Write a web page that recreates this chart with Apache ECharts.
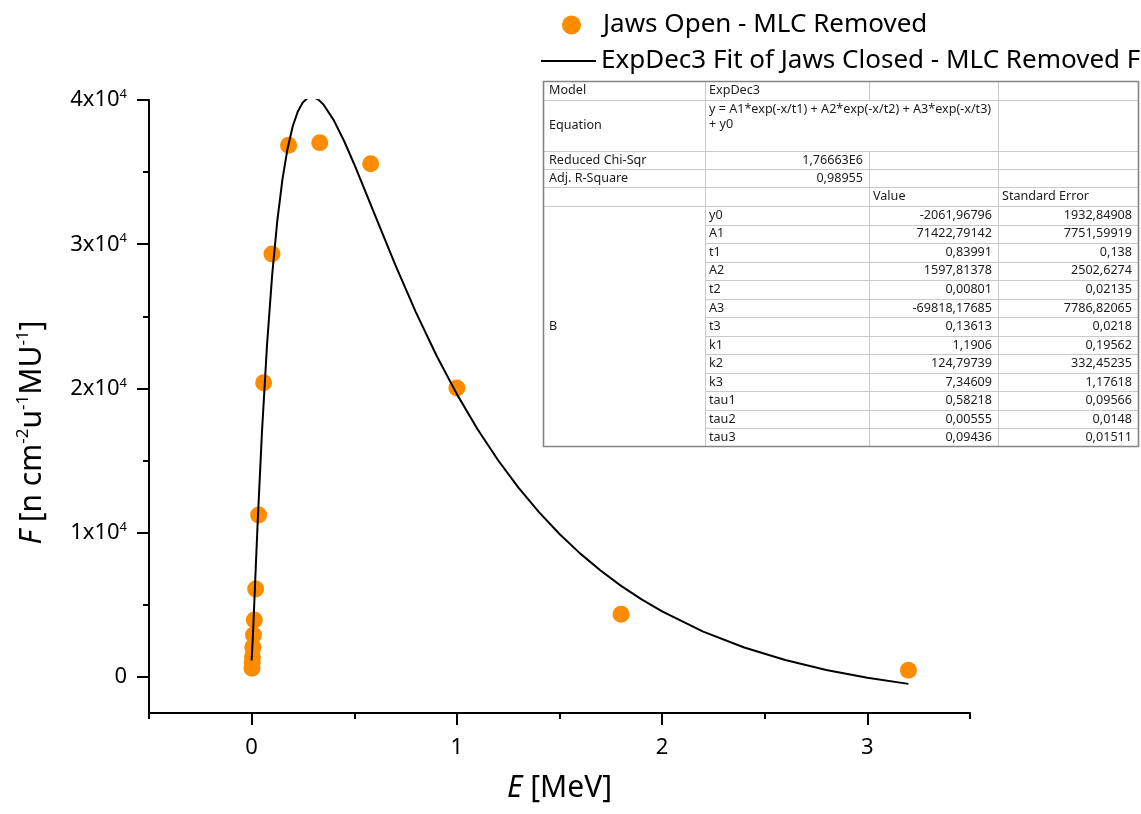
<!DOCTYPE html>
<html>
<head>
<meta charset="utf-8">
<title>ExpDec3 fit – neutron fluence vs energy</title>
<script src="https://cdn.jsdelivr.net/npm/echarts@6/dist/echarts.min.js"></script>
<style>
  html, body { margin: 0; padding: 0; background: #fff; }
  #chart { width: 1141px; height: 814px; }
</style>
</head>
<body>
<div id="chart"></div>
<script>
// Measured points: energy E [MeV] and fluence F
const energy  = [0.002, 0.003, 0.004, 0.006, 0.009, 0.013, 0.0195, 0.034, 0.0585, 0.099, 0.18, 0.332, 0.58, 1.0, 1.8, 3.2];
const fluence = [600, 1000, 1400, 2060, 2900, 3940, 6090, 11230, 20400, 29330, 36870, 37040, 35580, 20030, 4350, 470];

// ExpDec3 fitted curve, sampled
const fitE = [0, 0.005, 0.01, 0.02, 0.03, 0.05, 0.075, 0.1, 0.125, 0.15, 0.175, 0.2, 0.225, 0.25, 0.275,
              0.3, 0.325, 0.35, 0.4, 0.45, 0.5, 0.6, 0.7, 0.8, 0.9, 1.0, 1.1, 1.2, 1.3, 1.4, 1.5, 1.6,
              1.7, 1.8, 1.9, 2.0, 2.2, 2.4, 2.6, 2.8, 3.0, 3.2];
const fitF = [1140, 2493, 4101, 7534, 10884, 16880, 23017, 27853, 31612, 34484, 36623, 38161, 39206, 39847, 40158,
              40202, 40030, 39683, 38603, 37176, 35547, 32049, 28568, 25296, 22305, 19608, 17194, 15042, 13126, 11423, 9911, 8567,
              7375, 6315, 5375, 4540, 3141, 2039, 1170, 485, -55, -480];

// Axis ticks
const xMajorTicks = [0, 1, 2, 3];
const xMinorTicks = [-0.5, 0.5, 1.5, 2.5, 3.5];
const yMajorTicks = [0, 10000, 20000, 30000, 40000];
const yMinorTicks = [5000, 15000, 25000, 35000];
const yTickMantissa = ['0', '1x10', '2x10', '3x10', '4x10'];
const yTickExponent = '4';

// Series names
const pointsName = 'Jaws Open - MLC Removed';
const fitName = 'ExpDec3 Fit of Jaws Closed - MLC Removed F';

// Fit report
const reportHead = [
  ['Model', 'ExpDec3'],
  ['Equation', 'y = A1*exp(-x/t1) + A2*exp(-x/t2) + A3*exp(-x/t3)\n+ y0'],
  ['Reduced Chi-Sqr', '1,76663E6'],
  ['Adj. R-Square', '0,98955']
];
const reportColumns = ['Value', 'Standard Error'];
const reportGroup = 'B';
const paramNames  = ['y0', 'A1', 't1', 'A2', 't2', 'A3', 't3', 'k1', 'k2', 'k3', 'tau1', 'tau2', 'tau3'];
const paramValues = ['-2061,96796', '71422,79142', '0,83991', '1597,81378', '0,00801', '-69818,17685', '0,13613',
                     '1,1906', '124,79739', '7,34609', '0,58218', '0,00555', '0,09436'];
const paramErrors = ['1932,84908', '7751,59919', '0,138', '2502,6274', '0,02135', '7786,82065', '0,0218',
                     '0,19562', '332,45235', '1,17618', '0,09566', '0,0148', '0,01511'];

const FONT = '"Noto Sans", "Open Sans", sans-serif';

// ---- fit report table, built as graphic elements ----
function buildReport() {
  const L = 543, R = 1139, T = 81, B = 447;
  const c1 = 705, c2 = 869, c3 = 998;
  const headBottoms = [100, 151, 169, 187, 206];
  const rowH = (B - 206) / paramNames.length;
  const els = [];
  const thin = { stroke: '#c9c9c9', lineWidth: 1 };
  const hl = (x1, x2, y) => els.push({ type: 'line', shape: { x1, y1: y + 0.5, x2, y2: y + 0.5 }, style: thin, silent: true });
  const vl = (x, y1, y2) => els.push({ type: 'line', shape: { x1: x + 0.5, y1, x2: x + 0.5, y2 }, style: thin, silent: true });
  const txt = (text, x, y, align, va) => els.push({
    type: 'text', silent: true,
    style: { text, x, y, align: align || 'left', verticalAlign: va || 'middle',
             fontSize: 12.6, fontFamily: FONT, fill: '#1c1c1c', lineHeight: 15 }
  });

  els.push({ type: 'rect', shape: { x: L, y: T, width: R - L, height: B - T }, style: { fill: '#fff', stroke: 'none' }, silent: true });

  headBottoms.forEach(y => hl(L, R, y));
  for (let i = 1; i < paramNames.length; i++) hl(c1, R, Math.round(206 + i * rowH));
  vl(c1, T, B);
  vl(c2, T, headBottoms[0]);
  vl(c2, headBottoms[1], B);
  vl(c3, T, B);

  // outer frame
  els.push({ type: 'rect', shape: { x: L + 0.5, y: T + 0.5, width: R - L - 1, height: B - T - 1 },
             style: { fill: 'none', stroke: '#858585', lineWidth: 1.6 }, silent: true });

  // header rows
  const tops = [T].concat(headBottoms);
  txt(reportHead[0][0], L + 6, (tops[0] + tops[1]) / 2);
  txt(reportHead[0][1], c1 + 4, (tops[0] + tops[1]) / 2);
  txt(reportHead[1][0], L + 6, (tops[1] + tops[2]) / 2);
  txt(reportHead[1][1], c1 + 4, tops[1] + 2, 'left', 'top');
  txt(reportHead[2][0], L + 6, (tops[2] + tops[3]) / 2);
  txt(reportHead[2][1], c2 - 6, (tops[2] + tops[3]) / 2, 'right');
  txt(reportHead[3][0], L + 6, (tops[3] + tops[4]) / 2);
  txt(reportHead[3][1], c2 - 6, (tops[3] + tops[4]) / 2, 'right');
  txt(reportColumns[0], c2 + 4, (tops[4] + tops[5]) / 2);
  txt(reportColumns[1], c3 + 4, (tops[4] + tops[5]) / 2);

  // parameter block
  txt(reportGroup, L + 6, (206 + B) / 2);
  paramNames.forEach((n, i) => {
    const yc = 206 + (i + 0.5) * rowH;
    txt(n, c1 + 4, yc);
    txt(paramValues[i], c3 - 6, yc, 'right');
    txt(paramErrors[i], R - 7, yc, 'right');
  });
  return els;
}

const chart = echarts.init(document.getElementById('chart'), null, { renderer: 'canvas' });

const axisBlack = { lineStyle: { color: '#000', width: 2 } };
const tickLabelRich = {
  m: { fontSize: 22, fontFamily: FONT, color: '#000', lineHeight: 24 },
  s: { fontSize: 13, fontFamily: FONT, color: '#000', lineHeight: 14, verticalAlign: 'top' }
};

const option = {
  backgroundColor: '#fff',
  animation: false,
  textStyle: { fontFamily: FONT },
  grid: { left: 149, top: 100, right: 1141 - 970, bottom: 814 - 713, containLabel: false },
  legend: [
    {
      data: [{ name: pointsName, icon: 'circle' }],
      left: 562, top: 12, padding: 0,
      itemWidth: 19, itemHeight: 19,
      selectedMode: false,
      textStyle: { fontSize: 26, fontFamily: FONT, color: '#000', padding: [0, 0, 0, 17] }
    },
    {
      data: [{ name: fitName, icon: 'rect' }],
      left: 541, top: 48, padding: 0,
      itemWidth: 55, itemHeight: 2,
      selectedMode: false,
      textStyle: { fontSize: 26, fontFamily: FONT, color: '#000' }
    }
  ],
  xAxis: [
    {
      type: 'value', min: -0.5, max: 3.5,
      name: '{i|E}{n| [MeV]}',
      nameLocation: 'middle', nameGap: 60,
      nameTextStyle: {
        rich: {
          i: { fontSize: 30, fontStyle: 'italic', fontFamily: FONT, color: '#000' },
          n: { fontSize: 30, fontFamily: FONT, color: '#000' }
        }
      },
      axisLine: { show: true, onZero: false, ...axisBlack },
      axisTick: { show: true, customValues: xMinorTicks, length: 6, inside: false, lineStyle: { color: '#000', width: 2 } },
      axisLabel: { show: true, customValues: xMajorTicks, margin: 24, fontSize: 22, fontFamily: FONT, color: '#000' },
      splitLine: { show: false }
    },
    {
      type: 'value', min: -0.5, max: 3.5, position: 'bottom',
      axisLine: { show: false, onZero: false },
      axisTick: { show: true, customValues: xMajorTicks, length: 12, lineStyle: { color: '#000', width: 2 } },
      axisLabel: { show: false },
      splitLine: { show: false }
    }
  ],
  yAxis: [
    {
      type: 'value', min: -2500, max: 40000,
      name: '{i|F}{n| [n cm}{s|-2}{n|u}{s|-1}{n|MU}{s|-1}{n|]}',
      nameLocation: 'middle', nameGap: 100, nameRotate: 90,
      nameTextStyle: {
        padding: [0, 52, 0, 0],
        rich: {
          i: { fontSize: 30, fontStyle: 'italic', fontFamily: FONT, color: '#000', lineHeight: 34 },
          n: { fontSize: 30, fontFamily: FONT, color: '#000', lineHeight: 34 },
          s: { fontSize: 17, fontFamily: FONT, color: '#000', lineHeight: 18, verticalAlign: 'top' }
        }
      },
      axisLine: { show: true, onZero: false, ...axisBlack },
      axisTick: { show: true, customValues: yMinorTicks, length: 6, lineStyle: { color: '#000', width: 2 } },
      axisLabel: {
        show: true, customValues: yMajorTicks, margin: 22,
        formatter: v => {
          const i = yMajorTicks.indexOf(v);
          if (i <= 0) return '{m|' + yTickMantissa[0] + '}';
          return '{m|' + yTickMantissa[i] + '}{s|' + yTickExponent + '}';
        },
        rich: tickLabelRich
      },
      splitLine: { show: false }
    },
    {
      type: 'value', min: -2500, max: 40000, position: 'left',
      axisLine: { show: false, onZero: false },
      axisTick: { show: true, customValues: yMajorTicks, length: 12, lineStyle: { color: '#000', width: 2 } },
      axisLabel: { show: false },
      splitLine: { show: false }
    }
  ],
  graphic: buildReport(),
  series: [
    {
      name: pointsName,
      type: 'scatter',
      xAxisIndex: 0, yAxisIndex: 0,
      symbol: 'circle', symbolSize: 17,
      itemStyle: { color: '#ff8c00', opacity: 1 },
      data: energy.map((e, i) => [e, fluence[i]]),
      z: 2
    },
    {
      name: fitName,
      type: 'line',
      xAxisIndex: 0, yAxisIndex: 0,
      color: '#000',
      showSymbol: false, symbol: 'none',
      smooth: false,
      clip: true,
      lineStyle: { color: '#000', width: 2 },
      itemStyle: { color: '#000' },
      data: fitE.map((e, i) => [e, fitF[i]]),
      z: 3
    }
  ]
};

chart.setOption(option);
</script>
</body>
</html>
